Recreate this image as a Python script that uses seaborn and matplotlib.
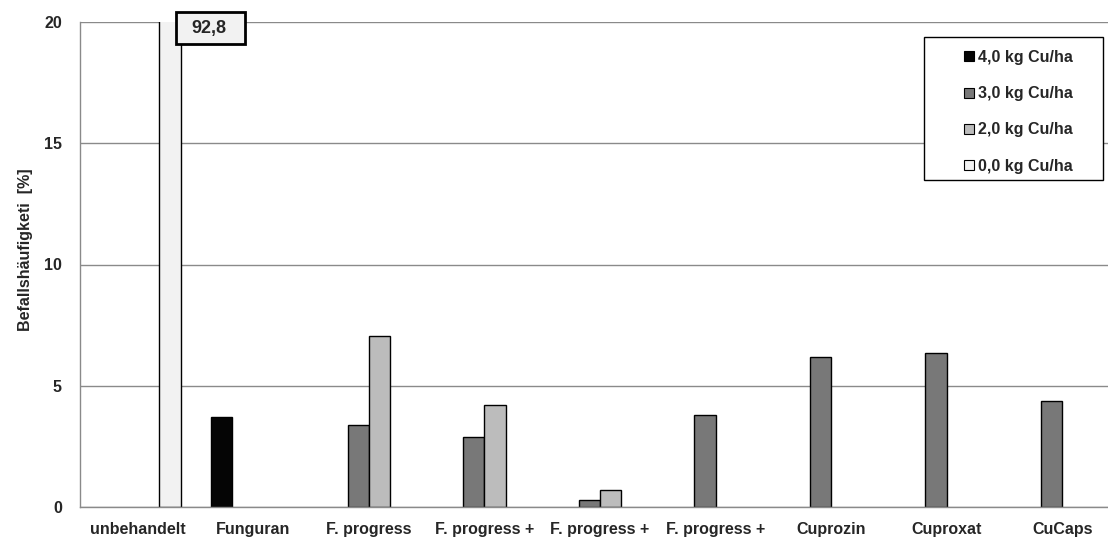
import matplotlib
matplotlib.use('Agg')
import matplotlib.pyplot as plt
from matplotlib.patches import Patch, Rectangle
import numpy as np
import pandas as pd
import seaborn as sns

# treatments (x groups), labels repeat so keep separate keys
varianten = ['unbehandelt', 'Funguran', 'F. progress', 'F. progress +', 'F. progress +',
             'F. progress +', 'Cuprozin', 'Cuproxat', 'CuCaps']
keys = [f'{i}_{v}' for i, v in enumerate(varianten)]

aufwand = ['4,0 kg Cu/ha', '3,0 kg Cu/ha', '2,0 kg Cu/ha', '0,0 kg Cu/ha']
farben = ['#050505', '#787878', '#bcbcbc', '#f2f2f2']

# values per copper dose (None = not tested)
cu_40 = [None, 3.70, None, None, None, None, None, None, None]
cu_30 = [None, None, 3.40, 2.88, 0.30, 3.81, 6.17, 6.33, 4.38]
cu_20 = [None, None, 7.07, 4.22, 0.71, None, None, None, None]
cu_00 = [92.8, None, None, None, None, None, None, None, None]

rows = []
for level, serie in zip(aufwand, [cu_40, cu_30, cu_20, cu_00]):
    for k, v in zip(keys, serie):
        if v is not None:
            rows.append({'Variante': k, 'Aufwand': level, 'Befall': v})
df = pd.DataFrame(rows)

sns.set_style('white')
plt.rcParams['font.family'] = ['Liberation Sans', 'DejaVu Sans']

fig = plt.figure(figsize=(11.08, 5.38), dpi=100)
ax = fig.add_axes([80 / 1108, 31 / 538, 1040 / 1108, 485 / 538])

sns.barplot(data=df, x='Variante', y='Befall', hue='Aufwand', order=keys,
            hue_order=aufwand, palette=dict(zip(aufwand, farben)), width=0.74,
            edgecolor='black', linewidth=1, saturation=1, dodge=True,
            legend=False, ax=ax)

ax.set_xlim(-0.5, len(keys) - 0.5)
ax.set_ylim(0, 20)
ax.set_yticks([0, 5, 10, 15, 20])
ax.yaxis.grid(True, color='#8a8a8a', linewidth=1)
ax.set_axisbelow(True)

ax.set_xticks(range(len(keys)))
ax.set_xticklabels(varianten, fontsize=11.5, fontweight='bold')
ax.set_xticks(np.arange(-0.5, len(keys)), minor=True)
ax.tick_params(axis='x', which='major', length=0, pad=11)
ax.tick_params(axis='x', which='minor', length=5, color='#8a8a8a', direction='out')
ax.tick_params(axis='y', length=7, color='#8a8a8a', labelsize=11.5, pad=6)
for lab in ax.get_yticklabels():
    lab.set_fontweight('bold')

for s in ['top', 'right']:
    ax.spines[s].set_visible(False)
for s in ['left', 'bottom']:
    ax.spines[s].set_color('#8a8a8a')
    ax.spines[s].set_linewidth(1)

ax.set_xlabel('')
ax.set_ylabel('Befallshäufigketi  [%]', fontsize=11.5, fontweight='bold')
ax.yaxis.set_label_coords(-0.0452, 0.53)

# value of the clipped bar
ax.add_patch(Rectangle((96 / 1040, 463 / 485), 69 / 1040, 32 / 485, transform=ax.transAxes,
                       facecolor='#f2f2f2', edgecolor='black', linewidth=2,
                       clip_on=False, zorder=5))
ax.text(0.1235, 0.9876, '92,8', transform=ax.transAxes, ha='center', va='center',
        fontsize=13, fontweight='bold', clip_on=False, zorder=6)

# legend with manual frame
fig.patches.append(Rectangle((924 / 1108, 1 - 180 / 538), 179 / 1108, 143 / 538,
                             transform=fig.transFigure, facecolor='white',
                             edgecolor='black', linewidth=1, zorder=5))
handles = [Patch(facecolor=c, edgecolor='black', linewidth=0.8) for c in farben]
leg = fig.legend(handles, aufwand, loc='upper left', bbox_to_anchor=(964 / 1108, 1 - 50 / 538),
                 frameon=False, prop={'size': 11.5, 'weight': 'bold'},
                 handlelength=0.6, handleheight=0.6, handletextpad=0.3,
                 labelspacing=1.33, borderpad=0, borderaxespad=0)
leg.set_zorder(6)

fig.savefig('out.png', dpi=100)
